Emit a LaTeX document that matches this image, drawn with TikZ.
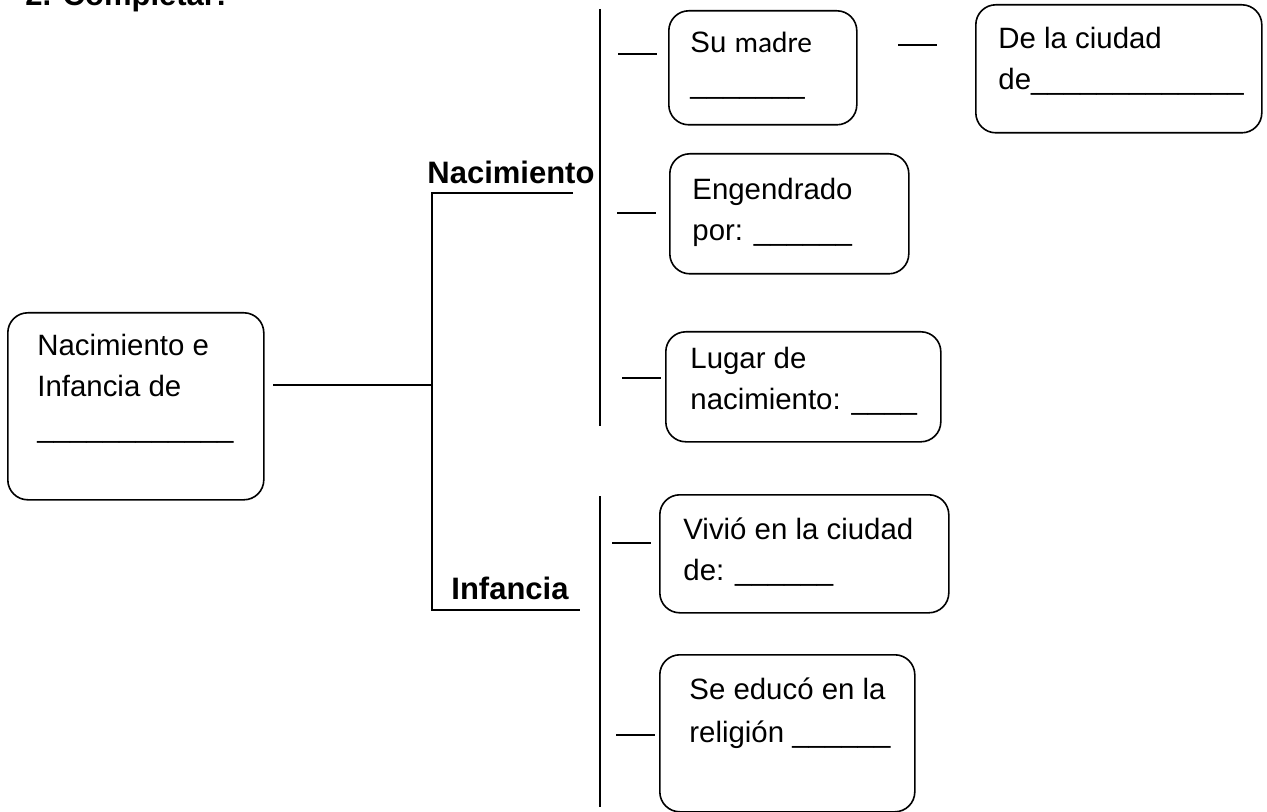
\documentclass[tikz,border=0pt]{standalone}
\usepackage{fontspec}
\setmainfont{Liberation Sans}
\newfontfamily\calibri{Carlito}
\usetikzlibrary{positioning}

\tikzset{
  caja/.style={draw, line width=0.8pt, rounded corners=10pt, anchor=north west, inner sep=0pt},
  texto/.style={anchor=north west, align=left, inner sep=0pt, font=\fontsize{14.7}{20.5}\selectfont, execute at begin node=\strut},
  rotulo/.style={anchor=base west, inner sep=0pt, font=\fontsize{15.5}{18}\selectfont\bfseries},
  raya/.style={line width=1pt},
}

\begin{document}
\begin{tikzpicture}[x=0.5pt, y=-0.5pt]
  \useasboundingbox (0,0) rectangle (1267,812);
  % titulo (cortado arriba)
  \node[rotulo] (titulo) at (25,6) {2. Completar:};

  % caja central
  \node[caja, minimum width=128pt, minimum height=93.5pt] (cprincipal) at (7,312) {};
  \node[texto] (tprincipal) at (37,334) {Nacimiento e\\Infancia de\\\_\_\_\_\_\_\_\_\_\_\_\_};

  % llave y rotulos
  \coordinate (rama) at (432,385);
  \coordinate (nacarriba) at (573,193);
  \coordinate (infabajo) at (580,610);
  \draw[raya] (273,385) -- (rama);
  \draw[raya] (nacarriba) -| (432,610) -- (infabajo);
  \node[rotulo] (nacimiento) at (427,184) {Nacimiento};
  \node[rotulo] (infancia) at (451,599) {Infancia};

  % lineas verticales
  \draw[raya] (600,9) -- (600,426);
  \draw[raya] (600,496) -- (600,807);

  % nacimiento
  \node[caja, minimum width=94pt, minimum height=57pt] (cmadre) at (668,10) {};
  \node[texto] (tmadre) at (690,32) {Su {\calibri madre}\\\_\_\_\_\_\_\_};
  \node[caja, minimum width=143pt, minimum height=64pt] (cciudad) at (975,4) {};
  \node[texto] (tciudad) at (998,27) {De la ciudad\\de\_\_\_\_\_\_\_\_\_\_\_\_\_};
  \node[caja, minimum width=119.5pt, minimum height=60pt] (cengendrado) at (669,153) {};
  \node[texto] (tengendrado) at (692,178) {Engendrado\\por: \_\_\_\_\_\_};
  \node[caja, minimum width=137.5pt, minimum height=55pt] (clugar) at (665,331) {};
  \node[texto] (tlugar) at (690,347) {Lugar de\\nacimiento: \_\_\_\_};

  % infancia
  \node[caja, minimum width=144.5pt, minimum height=59pt] (cvivio) at (659,494) {};
  \node[texto] (tvivio) at (683,517) {Vivió en la ciudad\\de: \_\_\_\_\_\_};
  \node[caja, minimum width=127.5pt, minimum height=78.5pt] (ceduco) at (659,654) {};
  \node[texto] (teduco) at (689,677) {Se educó en la\\[1pt]religión \_\_\_\_\_\_};

  % rayitas
  \foreach \xa/\ya in {618/54, 898/45, 617/213, 622/378, 612/543, 616/735}
    \draw[raya] (\xa,\ya) -- ++(39,0);
\end{tikzpicture}
\end{document}
